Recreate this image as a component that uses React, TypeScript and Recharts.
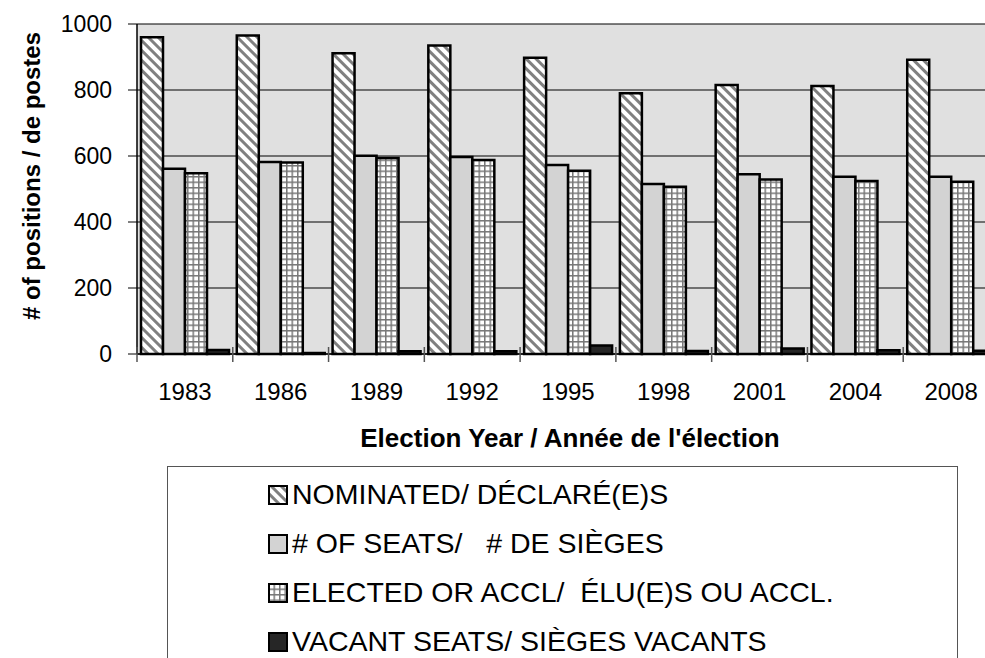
import { BarChart, Bar, XAxis, YAxis, CartesianGrid, Legend, Label } from 'recharts'

const YEARS = ['1983', '1986', '1989', '1992', '1995', '1998', '2001', '2004', '2008']
const NOMINATED = [960, 965, 911, 935, 898, 790, 815, 812, 892]
const SEATS = [561, 582, 601, 597, 573, 515, 545, 537, 537]
const ELECTED = [548, 580, 594, 588, 555, 507, 529, 524, 522]
const VACANT = [12, 3, 8, 8, 26, 9, 17, 11, 10]
const Y_TICKS = [0, 200, 400, 600, 800, 1000]

const SERIES_KEYS = ['nominated', 'seats', 'elected', 'vacant']
const SERIES_NAMES: Record<string, string> = {
  nominated: 'NOMINATED/ DÉCLARÉ(E)S',
  seats: '# OF SEATS/   # DE SIÈGES',
  elected: 'ELECTED OR ACCL/  ÉLU(E)S OU ACCL.',
  vacant: 'VACANT SEATS/ SIÈGES VACANTS',
}

const data = YEARS.map((year, i) => ({
  year,
  nominated: NOMINATED[i],
  seats: SEATS[i],
  elected: ELECTED[i],
  vacant: VACANT[i],
}))

const FONT = '"Liberation Sans", Arial, sans-serif'
const CHART_W = 1010
const CHART_H = 658
const MARGIN = { top: 24, right: 11, bottom: 0, left: 0 }
const Y_AXIS_W = 137
const PLOT_BOTTOM = 354
const HALF_BAND = (CHART_W - MARGIN.left - MARGIN.right - Y_AXIS_W) / YEARS.length / 2

// tick label at the band centre, tick mark at the band boundary (excel style)
function YearTick(props: any) {
  const { x, y, payload } = props
  return (
    <g>
      <line x1={x - HALF_BAND} x2={x - HALF_BAND} y1={y - 7} y2={y + 8} stroke="#555" strokeWidth={1.5} />
      <text x={x} y={y + 46} textAnchor="middle" fontSize={24} fontFamily={FONT} fill="#000">
        {payload.value}
      </text>
    </g>
  )
}

function LegendBox(props: any) {
  const payload = [...(props.payload || [])].sort(
    (a: any, b: any) => SERIES_KEYS.indexOf(a.dataKey) - SERIES_KEYS.indexOf(b.dataKey)
  )
  return (
    <div
      style={{
        width: 791,
        height: 220,
        boxSizing: 'border-box',
        border: '1.5px solid #555',
        background: '#fff',
        paddingTop: 3,
        paddingLeft: 100,
        fontFamily: FONT,
        fontSize: 28.5,
        color: '#000',
      }}
    >
      {payload.map((entry: any) => (
        <div key={entry.value} style={{ display: 'flex', alignItems: 'center', height: 49, whiteSpace: 'pre' }}>
          <svg width={20} height={20} style={{ marginRight: 4 }}>
            <rect x={1} y={1} width={18} height={18} fill={entry.color} stroke="#000" strokeWidth={2} />
          </svg>
          <span>{entry.value}</span>
        </div>
      ))}
    </div>
  )
}

export default function App() {
  return (
    <div style={{ position: 'absolute', left: 0, top: 0, width: 985, height: 658, overflow: 'hidden', background: '#fff' }}>
      <svg width={0} height={0} style={{ position: 'absolute' }}>
        <defs>
          <pattern id="diag" width={7} height={7} patternUnits="userSpaceOnUse" patternTransform="rotate(-45)">
            <rect width={7} height={7} fill="#fff" />
            <rect width={3} height={7} fill="#808080" />
          </pattern>
          <pattern id="grid" width={5.5} height={5.5} patternUnits="userSpaceOnUse">
            <rect width={5.5} height={5.5} fill="#fff" />
            <rect width={1.5} height={5.5} fill="#777" />
            <rect width={5.5} height={1.5} fill="#777" />
          </pattern>
        </defs>
      </svg>
      <BarChart
        width={CHART_W}
        height={CHART_H}
        data={data}
        margin={MARGIN}
        barCategoryGap={4}
        barGap={0}
      >
        <CartesianGrid vertical={false} stroke="#000" fill="#e0e0e0" strokeWidth={1.2} />
        <XAxis
          dataKey="year"
          height={CHART_H - PLOT_BOTTOM}
          axisLine={{ stroke: '#000', strokeWidth: 1.5 }}
          tickLine={false}
          tickSize={0}
          tickMargin={0}
          interval={0}
          tick={<YearTick />}
        >
          <Label
            content={() => (
              <text x={570} y={447} textAnchor="middle" fontSize={26} fontWeight="bold" fontFamily={FONT} fill="#000">
                Election Year / Année de l'élection
              </text>
            )}
          />
        </XAxis>
        <YAxis
          width={Y_AXIS_W}
          domain={[0, 1000]}
          ticks={Y_TICKS}
          interval={0}
          axisLine={{ stroke: '#000', strokeWidth: 1.5 }}
          tickLine={{ stroke: '#000' }}
          tickSize={9}
          tickMargin={16}
          tick={{ fontSize: 23, fontFamily: FONT, fill: '#000' }}
        >
          <Label
            content={() => (
              <text
                x={31}
                y={176}
                transform="rotate(-90, 31, 176)"
                textAnchor="middle"
                dominantBaseline="central"
                fontSize={24}
                fontWeight="bold"
                fontFamily={FONT}
                fill="#000"
              >
                # of positions / de postes
              </text>
            )}
          />
        </YAxis>
        <Legend
          layout="vertical"
          align="center"
          verticalAlign="middle"
          content={<LegendBox />}
          wrapperStyle={{ left: 167, top: 466, width: 791, height: 220 }}
        />
        <Bar dataKey="nominated" name={SERIES_NAMES.nominated} fill="url(#diag)" stroke="#000" strokeWidth={2.5} isAnimationActive={false} />
        <Bar dataKey="seats" name={SERIES_NAMES.seats} fill="#d3d3d3" stroke="#000" strokeWidth={2.5} isAnimationActive={false} />
        <Bar dataKey="elected" name={SERIES_NAMES.elected} fill="url(#grid)" stroke="#000" strokeWidth={2.5} isAnimationActive={false} />
        <Bar dataKey="vacant" name={SERIES_NAMES.vacant} fill="#262626" stroke="#000" strokeWidth={2.5} isAnimationActive={false} />
      </BarChart>
    </div>
  )
}
